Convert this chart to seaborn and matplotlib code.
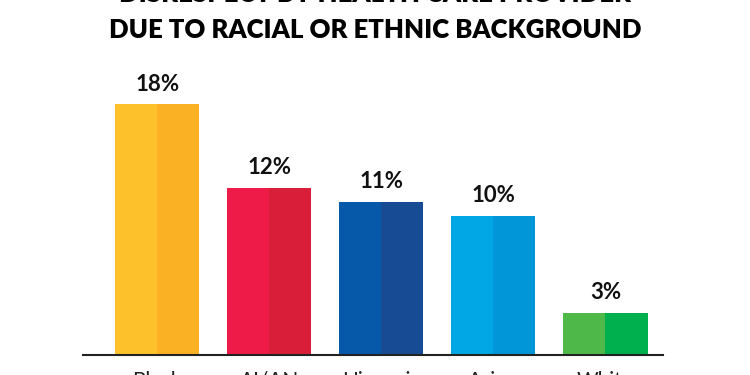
import matplotlib
matplotlib.use("Agg")
import matplotlib.pyplot as plt
import seaborn as sns
import pandas as pd

categories = ["Black", "AI/AN", "Hispanic", "Asian", "White"]
values = [18, 12, 11, 10, 3]
left_colors = ["#FDC22B", "#EE1B48", "#0659A9", "#00A7E4", "#4EB849"]
right_colors = ["#FBB124", "#D91E3A", "#174B94", "#0096D7", "#00B04F"]
title_lines = ["DISRESPECT BY HEALTH CARE PROVIDER",
               "DUE TO RACIAL OR ETHNIC BACKGROUND"]

sns.set_theme(style="white")
plt.rcParams['font.family'] = ['Lato', 'DejaVu Sans']

df = pd.DataFrame({
    "category": categories * 2,
    "value": values * 2,
    "half": ["left"] * len(categories) + ["right"] * len(categories),
})

fig = plt.figure(figsize=(7.5, 3.75), dpi=100)
W, H = 750, 375
ax_left, ax_right, ax_bottom, ax_top = 83, 663, 355, 60
ax = fig.add_axes([ax_left / W, 1 - ax_bottom / H,
                   (ax_right - ax_left) / W, (ax_bottom - ax_top) / H])

sns.barplot(data=df, x="category", y="value", hue="half", order=categories,
            hue_order=["left", "right"], dodge=True, width=0.75, gap=0,
            legend=False, ax=ax, saturation=1, errorbar=None)

cols = left_colors + right_colors
for patch, c in zip(ax.patches, cols):
    patch.set_facecolor(c)
    patch.set_edgecolor("none")
    patch.set_linewidth(0)

px_per_unit = 13.93
ax.set_ylim(0, (ax_bottom - ax_top) / px_per_unit)
ax.set_xlim(-0.661, 4.513)

for i, v in enumerate(values):
    ax.annotate(f"{v}%", xy=(i, v), xytext=(0, 7), textcoords="offset points",
                ha="center", va="bottom", fontsize=16, fontweight="bold",
                color="#111111")

sns.despine(ax=ax, left=True, top=True, right=True)
ax.spines["bottom"].set_color("#222222")
ax.spines["bottom"].set_linewidth(1.5)
ax.set_yticks([])
ax.set_xlabel("")
ax.set_ylabel("")
ax.tick_params(axis="x", length=0, pad=11.5, labelsize=15, labelcolor="#222222")

fig.text(0.5, 1 - (-5.5) / H, title_lines[0], ha="center", va="center",
         fontsize=18.5, fontweight="heavy", color="#000000")
fig.text(0.5, 1 - 30.5 / H, title_lines[1], ha="center", va="center",
         fontsize=18.5, fontweight="heavy", color="#000000")

fig.savefig("out.png", dpi=100, facecolor="white")
